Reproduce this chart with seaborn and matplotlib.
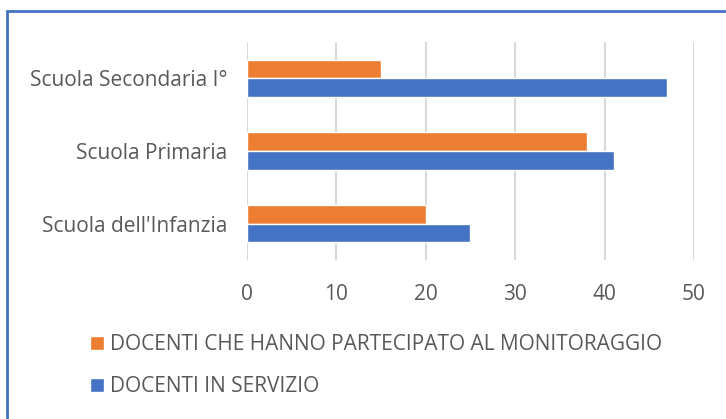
import pandas as pd
import seaborn as sns
import matplotlib.pyplot as plt
from matplotlib.patches import Rectangle

# data
categorie = ["Scuola Secondaria I°", "Scuola Primaria", "Scuola dell'Infanzia"]
serie = ["DOCENTI CHE HANNO PARTECIPATO AL MONITORAGGIO", "DOCENTI IN SERVIZIO"]
partecipanti = [15, 38, 20]
in_servizio = [47, 41, 25]
tick_x = [0, 10, 20, 30, 40, 50]

colori = {serie[0]: "#ED7D31", serie[1]: "#4472C4"}
grigio = "#595959"

df = pd.DataFrame({
    "scuola": categorie * 2,
    "serie": [serie[0]] * 3 + [serie[1]] * 3,
    "docenti": partecipanti + in_servizio,
})

sns.set_theme(style="white")
plt.rcParams['font.family'] = ['Open Sans', 'DejaVu Sans']

fig = plt.figure(figsize=(7.26, 4.19), dpi=100)
ax = fig.add_axes([0.340, 0.3795, 0.616, 0.5203])

sns.barplot(data=df, x="docenti", y="scuola", hue="serie", order=categorie,
            hue_order=serie, palette=colori, orient="h", width=0.51,
            saturation=1, ax=ax, legend=True)

ax.set_xlim(0, 50)
ax.set_ylim(2.5, -0.5)
ax.set_xticks(tick_x)
ax.xaxis.grid(True, color="#d9d9d9", linewidth=1.5)
ax.set_axisbelow(True)
for s in ax.spines.values():
    s.set_visible(False)
ax.set_xlabel("")
ax.set_ylabel("")
ax.tick_params(axis="both", length=0, colors=grigio, labelsize=15)
ax.tick_params(axis="x", pad=17)
ax.tick_params(axis="y", pad=14)

# legend below the plot
handles, labels = ax.get_legend_handles_labels()
ax.legend_.remove()
fig.legend(handles, labels, loc="upper left", bbox_to_anchor=(0.113, 0.222),
           frameon=False, fontsize=15, labelcolor=grigio, handlelength=0.65,
           handleheight=0.65, handletextpad=0.3, labelspacing=1.0,
           borderaxespad=0)

# frame around the chart
fig.patches.append(Rectangle((7 / 726, -0.05), 1.2, 1 - 11 / 419 + 0.05,
                             transform=fig.transFigure, fill=False,
                             edgecolor="#4472C4", linewidth=2))

fig.savefig("out.png", dpi=100)
